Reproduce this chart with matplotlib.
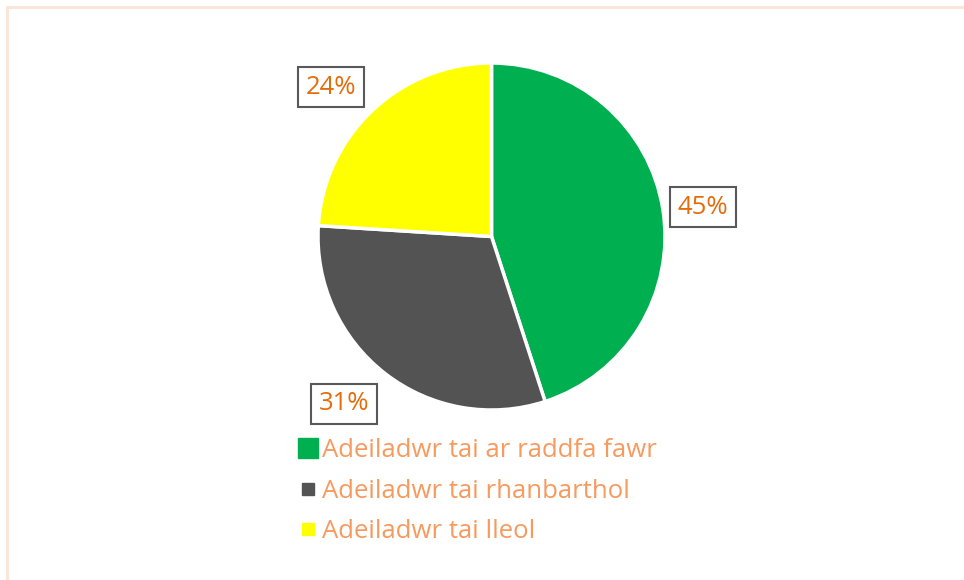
import matplotlib.pyplot as plt
from matplotlib.lines import Line2D
from matplotlib.patches import Rectangle

categories = ["Adeiladwr tai ar raddfa fawr", "Adeiladwr tai rhanbarthol", "Adeiladwr tai lleol"]
shares = [45, 31, 24]
colors = ["#00B050", "#535353", "#FFFF00"]

W, H = 964, 580
fig = plt.figure(figsize=(W / 100, H / 100), dpi=100)
ax = fig.add_axes([0, 0, 1, 1])

# light frame round the chart area
fig.patches.append(Rectangle((6.5 / W, -0.1), 1.2, 1 - 7 / H + 0.1, transform=fig.transFigure,
                             fill=False, edgecolor="#FCE4D6", linewidth=2))

ax.pie(shares, colors=colors, startangle=90, counterclock=False,
       center=(491.5, H - 236.5), radius=173.5,
       wedgeprops=dict(edgecolor="white", linewidth=2.5), frame=True)
ax.set_xlim(0, W)
ax.set_ylim(0, H)
ax.axis("off")

label_pos = [(703, 207), (344, 404), (331, 87)]
for v, (x, y) in zip(shares, label_pos):
    ax.text(x, H - y, f"{v}%", ha="center", va="center", fontsize=18.5, family="Open Sans",
            color="#E46C0A",
            bbox=dict(boxstyle="square,pad=0.3", facecolor="white", edgecolor="#595959", linewidth=1.5))

sizes = [14, 9, 9]
handles = [Line2D([], [], linestyle="none", marker="s", markersize=s, color=c) for s, c in zip(sizes, colors)]
fig.legend(handles, categories, loc="upper left", bbox_to_anchor=(277 / W, 1 - 415 / H),
           frameon=False, labelcolor="#F79A5E", handlelength=0.6, handletextpad=0.25,
           labelspacing=0.6, prop=dict(family="Open Sans", size=18.5))

fig.savefig("out.png", dpi=100)
